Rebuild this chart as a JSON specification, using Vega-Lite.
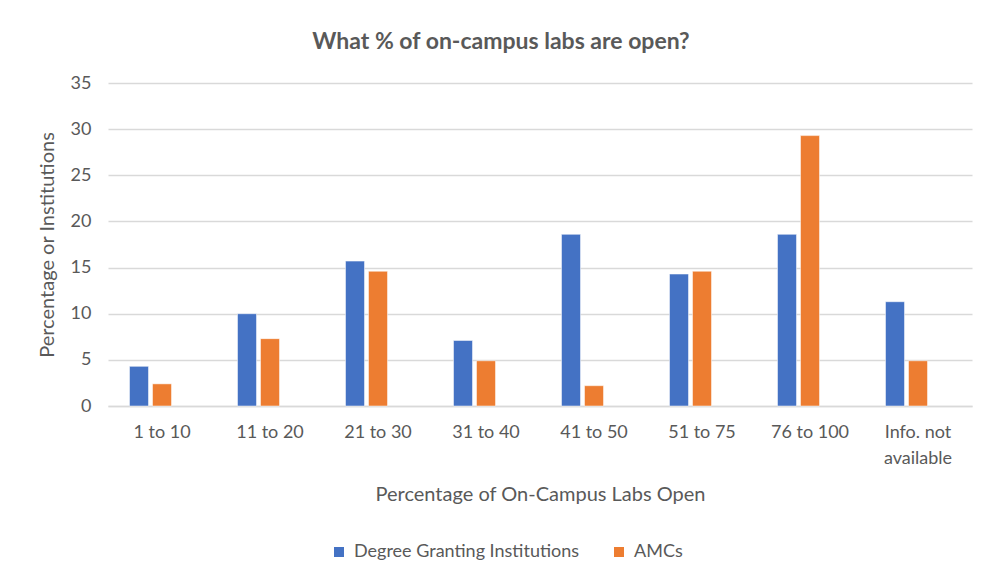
{
  "$schema": "https://vega.github.io/schema/vega-lite/v6.json",
  "width": 864,
  "height": 323,
  "autosize": {"type": "none"},
  "padding": {"left": 108, "top": 83, "right": 15, "bottom": 178},
  "background": "white",
  "title": {
    "text": "What % of on-campus labs are open?",
    "font": "Lato",
    "fontSize": 23,
    "fontWeight": "bold",
    "color": "#595959",
    "anchor": "middle",
    "dx": -39,
    "offset": 20
  },
  "data": {
    "values": [
      {"range": "1 to 10", "series": "Degree Granting Institutions", "value": 4.3},
      {"range": "1 to 10", "series": "AMCs", "value": 2.4},
      {"range": "11 to 20", "series": "Degree Granting Institutions", "value": 10.0},
      {"range": "11 to 20", "series": "AMCs", "value": 7.3},
      {"range": "21 to 30", "series": "Degree Granting Institutions", "value": 15.7},
      {"range": "21 to 30", "series": "AMCs", "value": 14.6},
      {"range": "31 to 40", "series": "Degree Granting Institutions", "value": 7.1},
      {"range": "31 to 40", "series": "AMCs", "value": 4.9},
      {"range": "41 to 50", "series": "Degree Granting Institutions", "value": 18.6},
      {"range": "41 to 50", "series": "AMCs", "value": 2.2},
      {"range": "51 to 75", "series": "Degree Granting Institutions", "value": 14.3},
      {"range": "51 to 75", "series": "AMCs", "value": 14.6},
      {"range": "76 to 100", "series": "Degree Granting Institutions", "value": 18.6},
      {"range": "76 to 100", "series": "AMCs", "value": 29.3},
      {"range": "Info. not available", "series": "Degree Granting Institutions", "value": 11.3},
      {"range": "Info. not available", "series": "AMCs", "value": 4.9}
    ]
  },
  "mark": {"type": "bar", "stroke": "white", "strokeWidth": 0.5},
  "encoding": {
    "x": {
      "field": "range",
      "type": "nominal",
      "sort": null,
      "scale": {"paddingInner": 0, "paddingOuter": 0},
      "axis": {
        "title": "Percentage of On-Campus Labs Open",
        "labelAngle": 0,
        "labelExpr": "datum.value == 'Info. not available' ? ['Info. not', 'available'] : datum.value",
        "labelPadding": 17,
        "labelLineHeight": 26,
        "titlePadding": 17,
        "ticks": false,
        "domainColor": "#D9D9D9",
        "domainWidth": 1.5
      }
    },
    "xOffset": {
      "field": "series",
      "type": "nominal",
      "scale": {
        "domain": ["Degree Granting Institutions", "AMCs", "_blank"],
        "paddingInner": 0.174,
        "paddingOuter": 0.935
      }
    },
    "y": {
      "field": "value",
      "type": "quantitative",
      "scale": {"domain": [0, 35], "nice": false},
      "axis": {
        "title": "Percentage or Institutions",
        "values": [0, 5, 10, 15, 20, 25, 30, 35],
        "domain": false,
        "ticks": false,
        "labelPadding": 17,
        "titlePadding": 13,
        "gridColor": "#D9D9D9",
        "gridWidth": 1.5
      }
    },
    "color": {
      "field": "series",
      "type": "nominal",
      "scale": {
        "domain": ["Degree Granting Institutions", "AMCs"],
        "range": ["#4472C4", "#ED7D31"]
      },
      "legend": {
        "title": null,
        "orient": "none",
        "direction": "horizontal",
        "legendX": 222,
        "legendY": 460,
        "symbolType": "square",
        "symbolSize": 100,
        "symbolStrokeWidth": 0,
        "columnPadding": 30,
        "labelOffset": 6,
        "labelLimit": 0
      }
    }
  },
  "config": {
    "view": {"stroke": null},
    "font": "Lato",
    "axis": {
      "labelFont": "Lato",
      "labelFontSize": 18,
      "labelColor": "#595959",
      "titleFont": "Lato",
      "titleFontSize": 20,
      "titleFontWeight": "normal",
      "titleColor": "#595959"
    },
    "legend": {
      "labelFont": "Lato",
      "labelFontSize": 18,
      "labelColor": "#595959"
    }
  }
}
